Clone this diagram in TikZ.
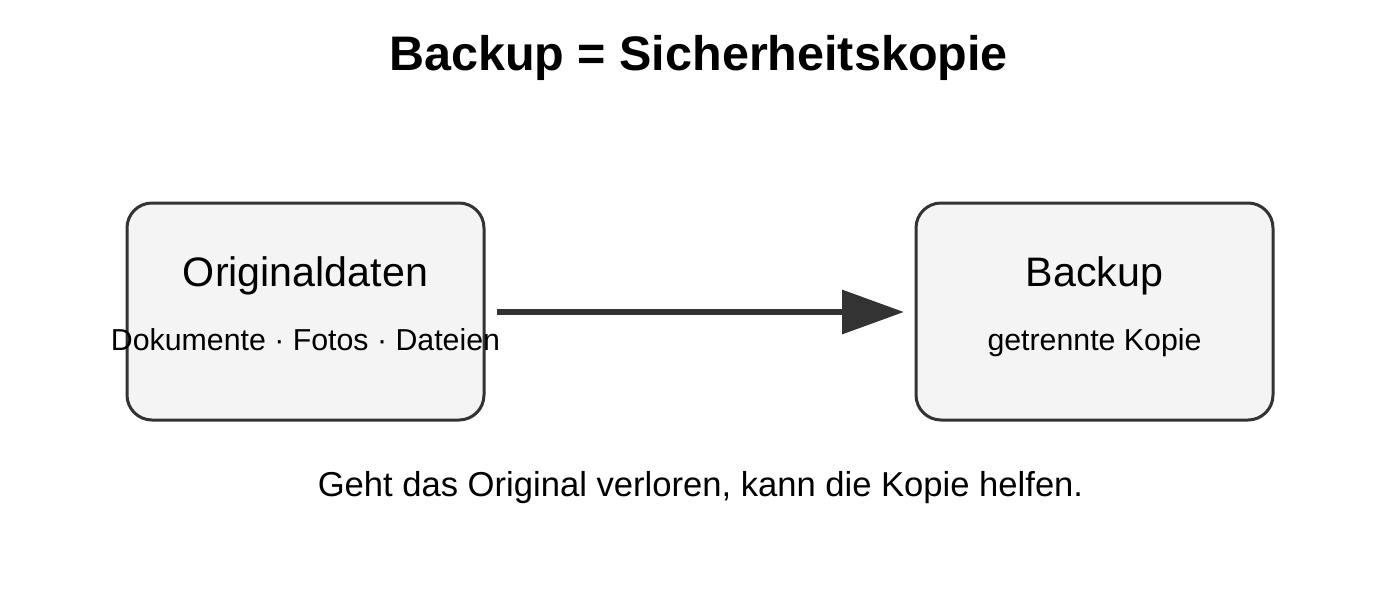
\documentclass[tikz,border=0pt]{standalone}
\usepackage{fontspec}
\setmainfont{Liberation Sans}
\usetikzlibrary{arrows.meta}
\definecolor{edge}{HTML}{333333}
\definecolor{boxfill}{HTML}{F4F4F4}
\tikzset{
  databox/.style={draw=edge, line width=3pt, fill=boxfill, rounded corners=25pt,
    minimum width=357pt, minimum height=217pt, inner sep=0pt},
  headtext/.style={font=\fontsize{41.2}{48}\selectfont, text=black, inner sep=0pt, anchor=base},
  subtext/.style={font=\fontsize{30.3}{36}\selectfont, text=black, inner sep=0pt, anchor=base},
  flow/.style={draw=edge, line width=6.5pt, -{Triangle[length=62pt,width=43pt]}},
}
\begin{document}
\begin{tikzpicture}[x=1pt,y=-1pt]
\useasboundingbox (0,0) rectangle (1400,611);
\fill[white] (0,0) rectangle (1400,611);
\node[font=\bfseries\fontsize{48.5}{56}\selectfont, inner sep=0pt, anchor=base] (title) at (698.5,70) {Backup = Sicherheitskopie};
\node[databox] (orig) at (305.5,311.5) {};
\node[databox] (back) at (1094.5,311.5) {};
\node[headtext] (origh) at (305.5,286.5) {Originaldaten};
\node[subtext] (origs) at (305.5,350) {Dokumente · Fotos · Dateien};
\node[headtext] (backh) at (1094.5,286.5) {Backup};
\node[subtext] (backs) at (1094.5,350) {getrennte Kopie};
\coordinate (a1) at (497,312);
\coordinate (a2) at (904,312);
\draw[flow] (a1) -- (a2);
\node[font=\fontsize{34.6}{40}\selectfont, inner sep=0pt, anchor=base] (note) at (700.5,496) {Geht das Original verloren, kann die Kopie helfen.};
\end{tikzpicture}
\end{document}
